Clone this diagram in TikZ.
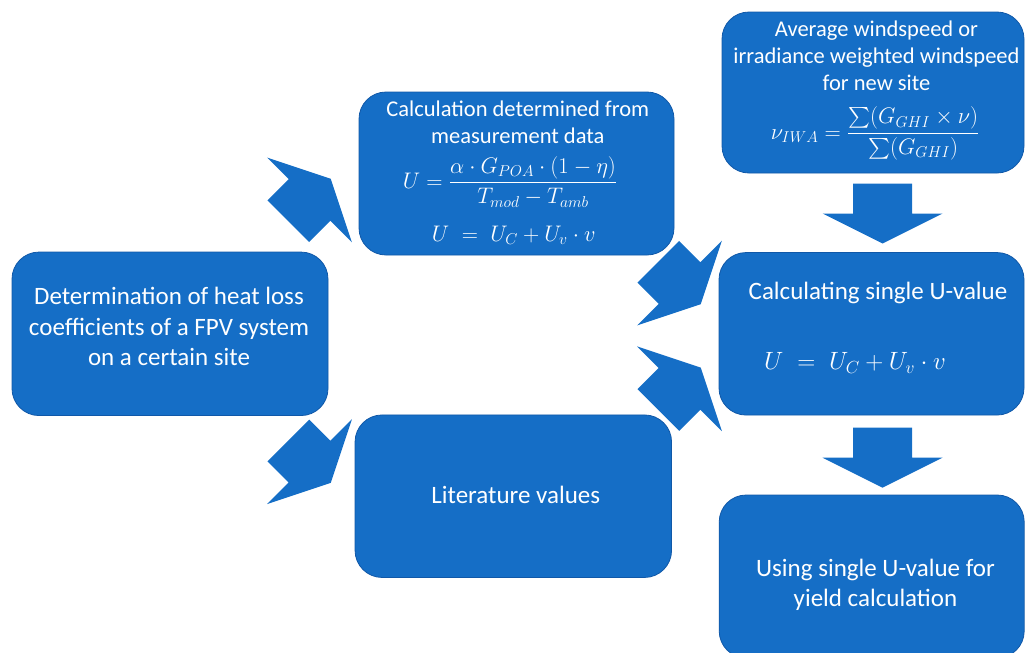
\RequirePackage{fix-cm}
\documentclass[tikz,border=0pt]{standalone}
\usepackage{amsmath}
\usepackage{fontspec}
\setmainfont{Carlito}
\definecolor{boxblue}{RGB}{21,110,198}
\definecolor{boxedge}{RGB}{16,88,168}
\tikzset{
  box/.style={
    draw=boxedge,
    line width=0.8pt,
    fill=boxblue,
    rectangle,
    rounded corners=27pt,
    inner sep=0pt,
  },
  boxtext/.style={
    text=white,
    align=center,
    inner sep=0pt,
    font=\fontsize{25}{30.5}\selectfont,
  },
  smalltext/.style={
    boxtext,
    font=\fontsize{22.5}{27}\selectfont,
  },
  blockarrow/.pic={
    \fill[boxblue] (-30,-29.5) -- (0,-29.5) -- (0,-60) -- (30,0)
      -- (0,60) -- (0,29.5) -- (-30,29.5) -- cycle;
  }
}

\begin{document}
\begin{tikzpicture}[x=1pt,y=-1pt]
\useasboundingbox (0,0) rectangle (1025,653);

% --- Boxes ---
\node[box, minimum width=316pt, minimum height=163.5pt] (heatloss) at (170,333.8) {};
\node[box, minimum width=315pt, minimum height=163pt] (calc) at (516.5,173.5) {};
\node[box, minimum width=316.5pt, minimum height=162.5pt] (lit) at (513.3,496.2) {};
\node[box, minimum width=302pt, minimum height=161pt] (avgwind) at (873,92.5) {};
\node[box, minimum width=305pt, minimum height=162.5pt] (single) at (871.5,333.8) {};
\node[box, minimum width=305pt, minimum height=163pt] (yield) at (871.7,576.5) {};

% --- Texts ---
\node[boxtext] (heatlosstext) at (169,326.5)
  {Determination of heat loss\\coefficients of a FPV system\\on a certain site};
\node[smalltext] (calctext) at (517.8,122.5)
  {Calculation determined from\\measurement data};
\node[smalltext, anchor=base] (calcfrac) at (510,188.5)
  {$U=\dfrac{\alpha\cdot G_{POA}\cdot(1-\eta)}{T_{mod}-T_{amb}}$};
\node[smalltext, anchor=base] (calcsum) at (513.7,241)
  {$U\;=\;U_C+U_v\cdot v$};
\node[boxtext] (littext) at (515.8,495) {Literature values};
\node[smalltext] (avgwindtext) at (876.5,56)
  {Average windspeed or\\irradiance weighted windspeed\\for new site};
\node[smalltext, anchor=base] (avgwindfrac) at (875,139)
  {$\nu_{IWA}=\dfrac{\sum(G_{GHI}\times\nu)}{\sum(G_{GHI})}$};
\node[boxtext] (singletext) at (878,293.3) {Calculating single U-value};
\node[boxtext, anchor=base] (singlesum) at (855,369.5)
  {$U\;=\;U_C+U_v\cdot v$};
\node[boxtext] (yieldtext) at (875.5,584.7)
  {Using single U-value for\\yield calculation};

% --- Block arrows ---
\pic[rotate=45] at (309.5,200) {blockarrow};
\pic[rotate=-45] at (309.5,461.7) {blockarrow};
\pic[rotate=-45] at (679.5,283) {blockarrow};
\pic[rotate=45] at (679.5,388.8) {blockarrow};
\pic[rotate=-90] at (882.5,213.5) {blockarrow};
\pic[rotate=-90] at (882.5,457.7) {blockarrow};

\end{tikzpicture}
\end{document}
